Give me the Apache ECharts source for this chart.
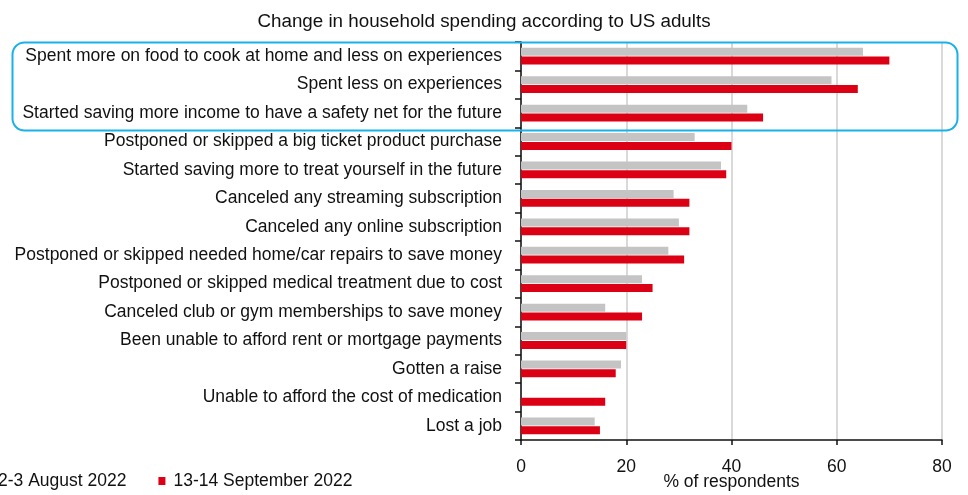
<!DOCTYPE html>
<html>
<head>
<meta charset="utf-8">
<script src="https://cdn.jsdelivr.net/npm/echarts@6/dist/echarts.min.js"></script>
<style>
  html, body { margin: 0; padding: 0; background: #fff; }
  #chart { width: 968px; height: 495px; }
</style>
</head>
<body>
<div id="chart"></div>
<script>
// household spending survey, two waves
const categories = [
  'Spent more on food to cook at home and less on experiences',
  'Spent less on experiences',
  'Started saving more income to have a safety net for the future',
  'Postponed or skipped a big ticket product purchase',
  'Started saving more to treat yourself in the future',
  'Canceled any streaming subscription',
  'Canceled any online subscription',
  'Postponed or skipped needed home/car repairs to save money',
  'Postponed or skipped medical treatment due to cost',
  'Canceled club or gym memberships to save money',
  'Been unable to afford rent or mortgage payments',
  'Gotten a raise',
  'Unable to afford the cost of medication',
  'Lost a job'
]
const augustValues = [65, 59, 43, 33, 38, 29, 30, 28, 23, 16, 20, 19, 0, 14]
const septemberValues = [70, 64, 46, 40, 39, 32, 32, 31, 25, 23, 20, 18, 16, 15]
const seriesNames = ['2-3 August 2022', '13-14 September 2022']
const xTicks = [0, 20, 40, 60, 80]

const FONT = '"Liberation Sans", Arial, sans-serif'

const myChart = echarts.init(document.getElementById('chart'))
const option = {
  animation: false,
  title: {
    text: 'Change in household spending according to US adults',
    left: 'center',
    top: 7,
    textStyle: { fontFamily: FONT, fontSize: 18.8, fontWeight: 'normal', color: '#111' }
  },
  legend: {
    left: -22,
    bottom: 0,
    itemWidth: 7,
    itemHeight: 8,
    itemGap: 32,
    icon: 'rect',
    textStyle: { fontFamily: FONT, fontSize: 17.5, color: '#111', padding: [0, 0, 0, 3] },
    data: seriesNames
  },
  grid: { left: 521, right: 26, top: 42, bottom: 55, containLabel: false, outerBoundsMode: 'none' },
  xAxis: {
    type: 'value',
    min: xTicks[0],
    max: xTicks[xTicks.length - 1],
    interval: 20,
    name: '% of respondents',
    nameLocation: 'middle',
    nameGap: 33,
    nameMoveOverlap: false,
    nameTextStyle: { fontFamily: FONT, fontSize: 17.5, color: '#111', verticalAlign: 'top' },
    axisLine: { show: true, lineStyle: { color: '#111', width: 1.5 } },
    axisTick: { show: true, inside: false, length: 5, lineStyle: { color: '#111', width: 1.5 } },
    axisLabel: { fontFamily: FONT, fontSize: 17.5, color: '#111', margin: 18 },
    splitLine: { show: true, lineStyle: { color: '#d9d9d9', width: 2 } }
  },
  yAxis: {
    type: 'category',
    inverse: true,
    data: categories,
    axisLine: { show: true, lineStyle: { color: '#111', width: 1.5 } },
    axisTick: { show: true, inside: false, length: 6, lineStyle: { color: '#111', width: 1.5 } },
    axisLabel: { fontFamily: FONT, fontSize: 17.5, color: '#111', margin: 19 }
  },
  series: [
    {
      name: seriesNames[0],
      type: 'bar',
      data: augustValues,
      barWidth: 8,
      barGap: '10%',
      itemStyle: { color: '#c4c4c4' }
    },
    {
      name: seriesNames[1],
      type: 'bar',
      data: septemberValues,
      barWidth: 8,
      itemStyle: { color: '#dc0014' }
    }
  ],
  graphic: [
    {
      type: 'rect',
      left: 10,
      top: 40,
      shape: { width: 945, height: 88, r: 12 },
      style: { fill: 'none', stroke: '#1ab0ea', lineWidth: 2 },
      z: 100
    }
  ]
}

option && myChart.setOption(option)
</script>
</body>
</html>
